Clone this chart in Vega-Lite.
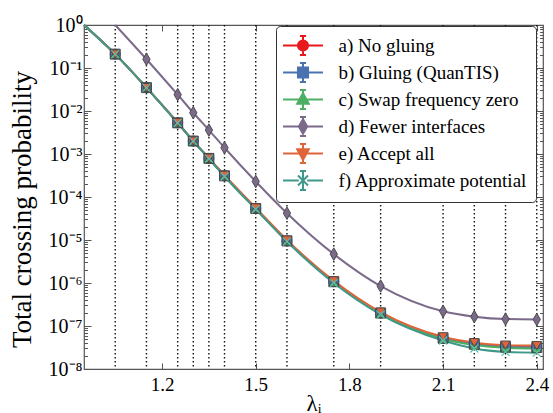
{
  "$schema": "https://vega.github.io/schema/vega-lite/v6.json",
  "width": 459,
  "height": 344,
  "autosize": {"type": "none"},
  "padding": {"left": 84, "top": 25, "right": 10, "bottom": 44},
  "background": "white",
  "config": {
    "font": "Liberation Serif",
    "view": {"stroke": "#555555", "strokeWidth": 1.2},
    "axis": {"domain": false, "grid": false, "labelFont": "Liberation Serif", "titleFont": "Liberation Serif", "labelColor": "black", "titleColor": "black", "tickColor": "#555555", "titleFontWeight": "normal"},
    "legend": {"labelFont": "Liberation Serif", "labelFontSize": 19, "labelColor": "black"}
  },
  "datasets": {
    "interfaces": [
      {"lam": 1.05}, {"lam": 1.15}, {"lam": 1.25}, {"lam": 1.30}, {"lam": 1.35}, {"lam": 1.40}, {"lam": 1.50},
      {"lam": 1.60}, {"lam": 1.75}, {"lam": 1.90}, {"lam": 2.10}, {"lam": 2.20}, {"lam": 2.30}, {"lam": 2.40}
    ],
    "series": [
      {"s": "a) No gluing", "lam": 0.95, "p": 1.0, "m": 0},
      {"s": "a) No gluing", "lam": 1.05, "p": 0.21, "m": 1},
      {"s": "a) No gluing", "lam": 1.15, "p": 0.035, "m": 1},
      {"s": "a) No gluing", "lam": 1.25, "p": 0.0053, "m": 1},
      {"s": "a) No gluing", "lam": 1.30, "p": 0.0020, "m": 1},
      {"s": "a) No gluing", "lam": 1.35, "p": 0.00079, "m": 1},
      {"s": "a) No gluing", "lam": 1.40, "p": 0.00031, "m": 1},
      {"s": "a) No gluing", "lam": 1.50, "p": 5.4e-5, "m": 1},
      {"s": "a) No gluing", "lam": 1.60, "p": 9.5e-6, "m": 1},
      {"s": "a) No gluing", "lam": 1.75, "p": 1.07e-6, "m": 1},
      {"s": "a) No gluing", "lam": 1.90, "p": 2.0e-7, "m": 1},
      {"s": "a) No gluing", "lam": 2.10, "p": 5.2e-8, "m": 1},
      {"s": "a) No gluing", "lam": 2.20, "p": 3.8e-8, "m": 1},
      {"s": "a) No gluing", "lam": 2.30, "p": 3.3e-8, "m": 1},
      {"s": "a) No gluing", "lam": 2.40, "p": 3.2e-8, "m": 1},
      {"s": "b) Gluing (QuanTIS)", "lam": 0.95, "p": 1.0, "m": 0},
      {"s": "b) Gluing (QuanTIS)", "lam": 1.05, "p": 0.21, "m": 1},
      {"s": "b) Gluing (QuanTIS)", "lam": 1.15, "p": 0.035, "m": 1},
      {"s": "b) Gluing (QuanTIS)", "lam": 1.25, "p": 0.0053, "m": 1},
      {"s": "b) Gluing (QuanTIS)", "lam": 1.30, "p": 0.0020, "m": 1},
      {"s": "b) Gluing (QuanTIS)", "lam": 1.35, "p": 0.00079, "m": 1},
      {"s": "b) Gluing (QuanTIS)", "lam": 1.40, "p": 0.00031, "m": 1},
      {"s": "b) Gluing (QuanTIS)", "lam": 1.50, "p": 5.4e-5, "m": 1},
      {"s": "b) Gluing (QuanTIS)", "lam": 1.60, "p": 9.5e-6, "m": 1},
      {"s": "b) Gluing (QuanTIS)", "lam": 1.75, "p": 1.07e-6, "m": 1},
      {"s": "b) Gluing (QuanTIS)", "lam": 1.90, "p": 2.0e-7, "m": 1},
      {"s": "b) Gluing (QuanTIS)", "lam": 2.10, "p": 5.2e-8, "m": 1},
      {"s": "b) Gluing (QuanTIS)", "lam": 2.20, "p": 3.8e-8, "m": 1},
      {"s": "b) Gluing (QuanTIS)", "lam": 2.30, "p": 3.3e-8, "m": 1},
      {"s": "b) Gluing (QuanTIS)", "lam": 2.40, "p": 3.2e-8, "m": 1},
      {"s": "c) Swap frequency zero", "lam": 0.95, "p": 1.0, "m": 0},
      {"s": "c) Swap frequency zero", "lam": 1.05, "p": 0.21, "m": 1},
      {"s": "c) Swap frequency zero", "lam": 1.15, "p": 0.035, "m": 1},
      {"s": "c) Swap frequency zero", "lam": 1.25, "p": 0.0053, "m": 1},
      {"s": "c) Swap frequency zero", "lam": 1.30, "p": 0.0020, "m": 1},
      {"s": "c) Swap frequency zero", "lam": 1.35, "p": 0.00079, "m": 1},
      {"s": "c) Swap frequency zero", "lam": 1.40, "p": 0.00031, "m": 1},
      {"s": "c) Swap frequency zero", "lam": 1.50, "p": 5.4e-5, "m": 1},
      {"s": "c) Swap frequency zero", "lam": 1.60, "p": 9.5e-6, "m": 1},
      {"s": "c) Swap frequency zero", "lam": 1.75, "p": 1.05e-6, "m": 1},
      {"s": "c) Swap frequency zero", "lam": 1.90, "p": 1.95e-7, "m": 1},
      {"s": "c) Swap frequency zero", "lam": 2.10, "p": 5.0e-8, "m": 1},
      {"s": "c) Swap frequency zero", "lam": 2.20, "p": 3.6e-8, "m": 1},
      {"s": "c) Swap frequency zero", "lam": 2.30, "p": 3.1e-8, "m": 1},
      {"s": "c) Swap frequency zero", "lam": 2.40, "p": 3.0e-8, "m": 1},
      {"s": "d) Fewer interfaces", "lam": 1.05, "p": 1.0, "m": 0},
      {"s": "d) Fewer interfaces", "lam": 1.15, "p": 0.16, "m": 1},
      {"s": "d) Fewer interfaces", "lam": 1.25, "p": 0.024, "m": 1},
      {"s": "d) Fewer interfaces", "lam": 1.30, "p": 0.0091, "m": 1},
      {"s": "d) Fewer interfaces", "lam": 1.35, "p": 0.0036, "m": 1},
      {"s": "d) Fewer interfaces", "lam": 1.40, "p": 0.0014, "m": 1},
      {"s": "d) Fewer interfaces", "lam": 1.50, "p": 2.3e-4, "m": 1},
      {"s": "d) Fewer interfaces", "lam": 1.60, "p": 4.2e-5, "m": 1},
      {"s": "d) Fewer interfaces", "lam": 1.75, "p": 4.7e-6, "m": 1},
      {"s": "d) Fewer interfaces", "lam": 1.90, "p": 8.5e-7, "m": 1},
      {"s": "d) Fewer interfaces", "lam": 2.10, "p": 2.2e-7, "m": 1},
      {"s": "d) Fewer interfaces", "lam": 2.20, "p": 1.65e-7, "m": 1},
      {"s": "d) Fewer interfaces", "lam": 2.30, "p": 1.45e-7, "m": 1},
      {"s": "d) Fewer interfaces", "lam": 2.40, "p": 1.42e-7, "m": 1},
      {"s": "e) Accept all", "lam": 0.95, "p": 1.0, "m": 0},
      {"s": "e) Accept all", "lam": 1.05, "p": 0.21, "m": 1},
      {"s": "e) Accept all", "lam": 1.15, "p": 0.035, "m": 1},
      {"s": "e) Accept all", "lam": 1.25, "p": 0.0054, "m": 1},
      {"s": "e) Accept all", "lam": 1.30, "p": 0.0020, "m": 1},
      {"s": "e) Accept all", "lam": 1.35, "p": 0.00080, "m": 1},
      {"s": "e) Accept all", "lam": 1.40, "p": 0.00032, "m": 1},
      {"s": "e) Accept all", "lam": 1.50, "p": 5.6e-5, "m": 1},
      {"s": "e) Accept all", "lam": 1.60, "p": 1.0e-5, "m": 1},
      {"s": "e) Accept all", "lam": 1.75, "p": 1.12e-6, "m": 1},
      {"s": "e) Accept all", "lam": 1.90, "p": 2.1e-7, "m": 1},
      {"s": "e) Accept all", "lam": 2.10, "p": 5.6e-8, "m": 1},
      {"s": "e) Accept all", "lam": 2.20, "p": 4.1e-8, "m": 1},
      {"s": "e) Accept all", "lam": 2.30, "p": 3.6e-8, "m": 1},
      {"s": "e) Accept all", "lam": 2.40, "p": 3.5e-8, "m": 1},
      {"s": "f) Approximate potential", "lam": 0.95, "p": 1.0, "m": 0},
      {"s": "f) Approximate potential", "lam": 1.05, "p": 0.21, "m": 1},
      {"s": "f) Approximate potential", "lam": 1.15, "p": 0.035, "m": 1},
      {"s": "f) Approximate potential", "lam": 1.25, "p": 0.0053, "m": 1},
      {"s": "f) Approximate potential", "lam": 1.30, "p": 0.0020, "m": 1},
      {"s": "f) Approximate potential", "lam": 1.35, "p": 0.00078, "m": 1},
      {"s": "f) Approximate potential", "lam": 1.40, "p": 0.00030, "m": 1},
      {"s": "f) Approximate potential", "lam": 1.50, "p": 5.2e-5, "m": 1},
      {"s": "f) Approximate potential", "lam": 1.60, "p": 9.2e-6, "m": 1},
      {"s": "f) Approximate potential", "lam": 1.75, "p": 1.0e-6, "m": 1},
      {"s": "f) Approximate potential", "lam": 1.90, "p": 1.85e-7, "m": 1},
      {"s": "f) Approximate potential", "lam": 2.10, "p": 4.6e-8, "m": 1},
      {"s": "f) Approximate potential", "lam": 2.20, "p": 3.0e-8, "m": 1},
      {"s": "f) Approximate potential", "lam": 2.30, "p": 2.5e-8, "m": 1},
      {"s": "f) Approximate potential", "lam": 2.40, "p": 2.4e-8, "m": 1}
    ]
  },
  "layer": [
    {
      "data": {"name": "interfaces"},
      "mark": {"type": "rule", "color": "#111111", "strokeDash": [1.6, 2.4], "strokeWidth": 1.4},
      "encoding": {
        "x": {"field": "lam", "type": "quantitative", "scale": {"domain": [0.95, 2.42], "zero": false, "nice": false},
          "axis": {"orient": "top", "values": [1.2, 1.5, 1.8, 2.1, 2.4], "labels": false, "tickSize": -6, "title": null}}
      }
    },
    {
      "data": {"name": "series"},
      "mark": {"type": "line", "strokeWidth": 2, "interpolate": "monotone"},
      "encoding": {
        "x": {"field": "lam", "type": "quantitative", "scale": {"domain": [0.95, 2.42], "zero": false, "nice": false}, "axis": null},
        "y": {"field": "p", "type": "quantitative", "scale": {"type": "log", "domain": [1e-8, 1], "nice": false},
          "axis": {"orient": "right", "labels": false, "title": null,
            "values": [1e-8,2e-8,3e-8,4e-8,5e-8,6e-8,7e-8,8e-8,9e-8,1e-7,2e-7,3e-7,4e-7,5e-7,6e-7,7e-7,8e-7,9e-7,1e-6,2e-6,3e-6,4e-6,5e-6,6e-6,7e-6,8e-6,9e-6,1e-5,2e-5,3e-5,4e-5,5e-5,6e-5,7e-5,8e-5,9e-5,1e-4,2e-4,3e-4,4e-4,5e-4,6e-4,7e-4,8e-4,9e-4,1e-3,2e-3,3e-3,4e-3,5e-3,6e-3,7e-3,8e-3,9e-3,1e-2,2e-2,3e-2,4e-2,5e-2,6e-2,7e-2,8e-2,9e-2,0.1,0.2,0.3,0.4,0.5,0.6,0.7,0.8,0.9,1],
            "tickSize": {"condition": {"test": "abs(log(datum.value)/LN10 - round(log(datum.value)/LN10)) < 0.001", "value": -7}, "value": -3.5}}},
        "color": {"field": "s", "type": "nominal",
          "scale": {"domain": ["a) No gluing", "b) Gluing (QuanTIS)", "c) Swap frequency zero", "d) Fewer interfaces", "e) Accept all", "f) Approximate potential"],
            "range": ["#e8191c", "#4a72b0", "#4caf63", "#7b6a8a", "#e0643a", "#3d9a8b"]},
          "legend": {"orient": "none", "legendX": 192, "legendY": 1, "title": null, "fillColor": "white", "strokeColor": "#333333", "cornerRadius": 4,
            "padding": 8, "labelFont": "Liberation Serif", "labelFontSize": 19, "labelColor": "black", "labelLimit": 400,
            "symbolSize": 441, "symbolOffset": 7.5, "labelOffset": 24, "rowPadding": 0, "symbolOpacity": 1,
            "encode": {
              "labels": {"update": {"font": {"value": "Liberation Serif"}, "fontSize": {"value": 19}, "fill": {"value": "black"}}},
              "symbols": {"update": {
              "shape": {"signal": "substring(datum.value,0,1)=='a' ? 'M-1.9,0L-0.4,0M0.4,0L1.9,0M0,-0.9L0,0.9M-0.29,-0.9L0.29,-0.9M-0.29,0.9L0.29,0.9M0.48,0A0.48,0.48 0 1,1 -0.48,0A0.48,0.48 0 1,1 0.48,0Z' : substring(datum.value,0,1)=='b' ? 'M-1.9,0L-0.4,0M0.4,0L1.9,0M0,-0.9L0,0.9M-0.29,-0.9L0.29,-0.9M-0.29,0.9L0.29,0.9M-0.48,-0.48L0.48,-0.48L0.48,0.48L-0.48,0.48Z' : substring(datum.value,0,1)=='c' ? 'M-1.9,0L-0.4,0M0.4,0L1.9,0M0,-0.9L0,0.9M-0.29,-0.9L0.29,-0.9M-0.29,0.9L0.29,0.9M0,-0.6L0.55,0.4L-0.55,0.4Z' : substring(datum.value,0,1)=='d' ? 'M-1.9,0L-0.4,0M0.4,0L1.9,0M0,-0.9L0,0.9M-0.29,-0.9L0.29,-0.9M-0.29,0.9L0.29,0.9M0,-0.7L0.4,0L0,0.7L-0.4,0Z' : substring(datum.value,0,1)=='e' ? 'M-1.9,0L-0.4,0M0.4,0L1.9,0M0,-0.9L0,0.9M-0.29,-0.9L0.29,-0.9M-0.29,0.9L0.29,0.9M0,0.6L0.55,-0.4L-0.55,-0.4Z' : 'M-1.9,0L-0.4,0M0.4,0L1.9,0M0,-0.9L0,0.9M-0.29,-0.9L0.29,-0.9M-0.29,0.9L0.29,0.9M-0.48,-0.48L0.48,0.48M-0.48,0.48L0.48,-0.48'"},
              "fill": {"signal": "scale('color', datum.value)"},
              "stroke": {"signal": "scale('color', datum.value)"},
              "strokeWidth": {"value": 2}
            }}}}}
      }
    },
    {
      "data": {"name": "series"},
      "transform": [{"filter": "datum.m == 1 && datum.s == 'a) No gluing'"}],
      "mark": {"type": "point", "filled": true, "shape": "circle", "size": 100, "fill": "#e8191c", "stroke": "#444444", "strokeWidth": 0.9, "opacity": 1},
      "encoding": {
        "x": {"field": "lam", "type": "quantitative", "scale": {"domain": [0.95, 2.42], "zero": false, "nice": false},
          "axis": {"orient": "bottom", "values": [1.2, 1.5, 1.8, 2.1, 2.4], "format": ".1f", "labelFontSize": 19, "tickSize": -6, "labelPadding": 12,
            "title": "λᵢ", "titleFontSize": 23, "titlePadding": -2}},
        "y": {"field": "p", "type": "quantitative", "scale": {"type": "log", "domain": [1e-8, 1], "nice": false},
          "axis": {"orient": "left",
            "values": [1e-8,2e-8,3e-8,4e-8,5e-8,6e-8,7e-8,8e-8,9e-8,1e-7,2e-7,3e-7,4e-7,5e-7,6e-7,7e-7,8e-7,9e-7,1e-6,2e-6,3e-6,4e-6,5e-6,6e-6,7e-6,8e-6,9e-6,1e-5,2e-5,3e-5,4e-5,5e-5,6e-5,7e-5,8e-5,9e-5,1e-4,2e-4,3e-4,4e-4,5e-4,6e-4,7e-4,8e-4,9e-4,1e-3,2e-3,3e-3,4e-3,5e-3,6e-3,7e-3,8e-3,9e-3,1e-2,2e-2,3e-2,4e-2,5e-2,6e-2,7e-2,8e-2,9e-2,0.1,0.2,0.3,0.4,0.5,0.6,0.7,0.8,0.9,1],
            "labelExpr": "abs(log(datum.value)/LN10 - round(log(datum.value)/LN10)) < 0.001 ? '10' + (datum.value < 0.5 ? '⁻' : '') + ['⁰','¹','²','³','⁴','⁵','⁶','⁷','⁸'][abs(round(log(datum.value)/LN10))] : ''",
            "tickSize": {"condition": {"test": "abs(log(datum.value)/LN10 - round(log(datum.value)/LN10)) < 0.001", "value": -7}, "value": -3.5},
            "labelFontSize": 20, "labelPadding": 9,
            "title": "Total crossing probability", "titleFontSize": 27, "titlePadding": 12, "titleY": 184}}
      }
    },
    {
      "data": {"name": "series"},
      "transform": [{"filter": "datum.m == 1 && datum.s == 'b) Gluing (QuanTIS)'"}],
      "mark": {"type": "point", "filled": true, "shape": "square", "size": 100, "fill": "#4a72b0", "stroke": "#444444", "strokeWidth": 0.9, "opacity": 1},
      "encoding": {
        "x": {"field": "lam", "type": "quantitative", "scale": {"domain": [0.95, 2.42], "zero": false, "nice": false}, "axis": null},
        "y": {"field": "p", "type": "quantitative", "scale": {"type": "log", "domain": [1e-8, 1], "nice": false}, "axis": null}
      }
    },
    {
      "data": {"name": "series"},
      "transform": [{"filter": "datum.m == 1 && datum.s == 'c) Swap frequency zero'"}],
      "mark": {"type": "point", "filled": true, "shape": "triangle-up", "size": 90, "fill": "#4caf63", "stroke": "#444444", "strokeWidth": 0.9, "opacity": 1},
      "encoding": {
        "x": {"field": "lam", "type": "quantitative", "scale": {"domain": [0.95, 2.42], "zero": false, "nice": false}, "axis": null},
        "y": {"field": "p", "type": "quantitative", "scale": {"type": "log", "domain": [1e-8, 1], "nice": false}, "axis": null}
      }
    },
    {
      "data": {"name": "series"},
      "transform": [{"filter": "datum.m == 1 && datum.s == 'd) Fewer interfaces'"}],
      "mark": {"type": "point", "filled": true, "shape": "M0,-1.2L0.7,0L0,1.2L-0.7,0Z", "size": 110, "fill": "#7b6a8a", "stroke": "#444444", "strokeWidth": 0.9, "opacity": 1},
      "encoding": {
        "x": {"field": "lam", "type": "quantitative", "scale": {"domain": [0.95, 2.42], "zero": false, "nice": false}, "axis": null},
        "y": {"field": "p", "type": "quantitative", "scale": {"type": "log", "domain": [1e-8, 1], "nice": false}, "axis": null}
      }
    },
    {
      "data": {"name": "series"},
      "transform": [{"filter": "datum.m == 1 && datum.s == 'e) Accept all'"}],
      "mark": {"type": "point", "filled": true, "shape": "triangle-down", "size": 90, "fill": "#e0643a", "stroke": "#444444", "strokeWidth": 0.9, "opacity": 1},
      "encoding": {
        "x": {"field": "lam", "type": "quantitative", "scale": {"domain": [0.95, 2.42], "zero": false, "nice": false}, "axis": null},
        "y": {"field": "p", "type": "quantitative", "scale": {"type": "log", "domain": [1e-8, 1], "nice": false}, "axis": null}
      }
    },
    {
      "data": {"name": "series"},
      "transform": [{"filter": "datum.m == 1 && datum.s == 'f) Approximate potential'"}],
      "mark": {"type": "point", "filled": false, "shape": "M-0.8,-0.8L0.8,0.8M-0.8,0.8L0.8,-0.8", "size": 100, "stroke": "#5bbfae", "strokeWidth": 1.2, "opacity": 1},
      "encoding": {
        "x": {"field": "lam", "type": "quantitative", "scale": {"domain": [0.95, 2.42], "zero": false, "nice": false}, "axis": null},
        "y": {"field": "p", "type": "quantitative", "scale": {"type": "log", "domain": [1e-8, 1], "nice": false}, "axis": null}
      }
    }
  ],
  "resolve": {"axis": {"x": "independent", "y": "independent"}}
}
